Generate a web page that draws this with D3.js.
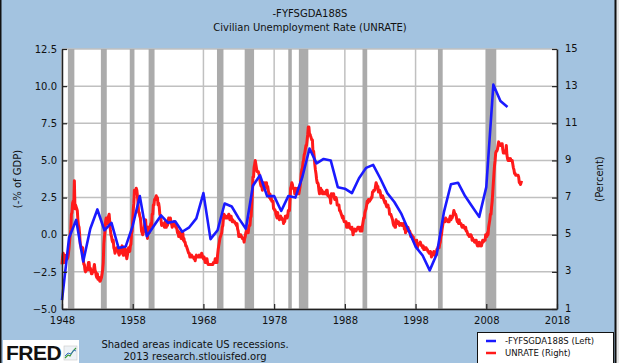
<!DOCTYPE html>
<html>
<head>
<meta charset="utf-8">
<script src="https://cdn.jsdelivr.net/npm/d3@7"></script>
<style>
  html, body { margin: 0; padding: 0; background: #fff; }
  svg { display: block; font-family: "DejaVu Sans", Verdana, sans-serif; }
</style>
</head>
<body>
<svg id="chart" width="619" height="363"></svg>
<script>
// -FYFSGDA188S, annual (fiscal year), negated federal surplus as % of GDP
const deficitYears = d3.range(1948, 2012);
const deficitValues = [
  -4.4, -0.2, 1.0, -1.8, 0.4, 1.7, 0.3, 0.8, -0.9, -0.8,
  0.6, 2.6, -0.1, 0.6, 1.3, 0.8, 0.9, 0.2, 0.5, 1.1,
  2.8, -0.3, 0.3, 2.1, 1.9, 1.1, 0.4, 3.3, 4.0, 2.6,
  2.6, 1.6, 2.6, 2.5, 3.9, 5.8, 4.8, 5.1, 5.0, 3.2,
  3.1, 2.8, 3.8, 4.5, 4.7, 3.8, 2.8, 2.2, 1.4, 0.3,
  -0.8, -1.4, -2.4, -1.3, 1.5, 3.4, 3.5, 2.6, 1.9, 1.2,
  3.2, 10.1, 9.0, 8.6
];

// UNRATE, monthly, one row per year starting 1948
const unrateStart = 1948;
const unrateRows = [
  [3.4, 3.8, 4.0, 3.9, 3.5, 3.6, 3.6, 3.9, 3.8, 3.7, 3.8, 4.0],
  [4.3, 4.7, 5.0, 5.3, 6.1, 6.2, 6.7, 6.8, 6.6, 7.9, 6.4, 6.6],
  [6.5, 6.4, 6.3, 5.8, 5.5, 5.4, 5.0, 4.5, 4.4, 4.2, 4.2, 4.3],
  [3.7, 3.4, 3.4, 3.1, 3.0, 3.2, 3.1, 3.1, 3.3, 3.5, 3.5, 3.1],
  [3.2, 3.1, 2.9, 2.9, 3.0, 3.0, 3.2, 3.4, 3.1, 3.0, 2.8, 2.7],
  [2.9, 2.6, 2.6, 2.7, 2.5, 2.5, 2.6, 2.7, 2.9, 3.1, 3.5, 4.5],
  [4.9, 5.2, 5.7, 5.9, 5.9, 5.6, 5.8, 6.0, 6.1, 5.7, 5.3, 5.0],
  [4.9, 4.7, 4.6, 4.7, 4.3, 4.2, 4.0, 4.2, 4.1, 4.3, 4.2, 4.2],
  [4.0, 3.9, 4.2, 4.0, 4.3, 4.3, 4.4, 4.1, 3.9, 3.9, 4.3, 4.2],
  [4.2, 3.9, 3.7, 3.9, 4.1, 4.3, 4.2, 4.1, 4.4, 4.5, 5.1, 5.2],
  [5.8, 6.4, 6.7, 7.4, 7.4, 7.3, 7.5, 7.4, 7.1, 6.7, 6.2, 6.2],
  [6.0, 5.9, 5.6, 5.2, 5.1, 5.0, 5.1, 5.2, 5.5, 5.7, 5.8, 5.3],
  [5.2, 4.8, 5.4, 5.2, 5.1, 5.4, 5.5, 5.6, 5.5, 6.1, 6.1, 6.6],
  [6.6, 6.9, 6.9, 7.0, 7.1, 6.9, 7.0, 6.6, 6.7, 6.5, 6.1, 6.0],
  [5.8, 5.5, 5.6, 5.6, 5.5, 5.5, 5.4, 5.7, 5.6, 5.4, 5.7, 5.5],
  [5.7, 5.9, 5.7, 5.7, 5.9, 5.6, 5.6, 5.4, 5.5, 5.5, 5.7, 5.5],
  [5.6, 5.4, 5.4, 5.3, 5.1, 5.2, 4.9, 5.0, 5.1, 5.1, 4.8, 5.0],
  [4.9, 5.1, 4.7, 4.8, 4.6, 4.6, 4.4, 4.4, 4.3, 4.2, 4.1, 4.0],
  [4.0, 3.8, 3.8, 3.8, 3.9, 3.8, 3.8, 3.8, 3.7, 3.7, 3.6, 3.8],
  [3.9, 3.8, 3.8, 3.8, 3.8, 3.9, 3.8, 3.8, 3.8, 4.0, 3.9, 3.8],
  [3.7, 3.8, 3.7, 3.5, 3.5, 3.7, 3.7, 3.5, 3.4, 3.4, 3.4, 3.4],
  [3.4, 3.4, 3.4, 3.4, 3.4, 3.5, 3.5, 3.5, 3.7, 3.7, 3.5, 3.5],
  [3.9, 4.2, 4.4, 4.6, 4.8, 4.9, 5.0, 5.1, 5.4, 5.5, 5.9, 6.1],
  [5.9, 5.9, 6.0, 5.9, 5.9, 5.9, 6.0, 6.1, 6.0, 5.8, 6.0, 6.0],
  [5.8, 5.7, 5.8, 5.7, 5.7, 5.7, 5.6, 5.6, 5.5, 5.6, 5.3, 5.2],
  [4.9, 5.0, 4.9, 5.0, 4.9, 4.9, 4.8, 4.8, 4.8, 4.6, 4.8, 4.9],
  [5.1, 5.2, 5.1, 5.1, 5.1, 5.4, 5.5, 5.5, 5.9, 6.0, 6.6, 7.2],
  [8.1, 8.1, 8.6, 8.8, 9.0, 8.8, 8.6, 8.4, 8.4, 8.4, 8.3, 8.2],
  [7.9, 7.7, 7.6, 7.7, 7.4, 7.6, 7.8, 7.8, 7.6, 7.7, 7.8, 7.8],
  [7.5, 7.6, 7.4, 7.2, 7.0, 7.2, 6.9, 7.0, 6.8, 6.8, 6.8, 6.4],
  [6.4, 6.3, 6.3, 6.1, 6.0, 5.9, 6.2, 5.9, 6.0, 5.8, 5.9, 6.0],
  [5.9, 5.9, 5.8, 5.8, 5.6, 5.7, 5.7, 6.0, 5.9, 6.0, 5.9, 6.0],
  [6.3, 6.3, 6.3, 6.9, 7.5, 7.6, 7.8, 7.7, 7.5, 7.5, 7.5, 7.2],
  [7.5, 7.4, 7.4, 7.2, 7.5, 7.5, 7.2, 7.4, 7.6, 7.9, 8.3, 8.5],
  [8.6, 8.9, 9.0, 9.3, 9.4, 9.6, 9.8, 9.8, 10.1, 10.4, 10.8, 10.8],
  [10.4, 10.4, 10.3, 10.2, 10.1, 10.1, 9.4, 9.5, 9.2, 8.8, 8.5, 8.3],
  [8.0, 7.8, 7.8, 7.7, 7.4, 7.2, 7.5, 7.5, 7.3, 7.4, 7.2, 7.3],
  [7.3, 7.2, 7.2, 7.3, 7.2, 7.4, 7.4, 7.1, 7.1, 7.1, 7.0, 7.0],
  [6.7, 7.2, 7.2, 7.1, 7.2, 7.2, 7.0, 6.9, 7.0, 7.0, 6.9, 6.6],
  [6.6, 6.6, 6.6, 6.3, 6.3, 6.2, 6.1, 6.0, 5.9, 6.0, 5.8, 5.7],
  [5.7, 5.7, 5.7, 5.4, 5.6, 5.4, 5.4, 5.6, 5.4, 5.4, 5.3, 5.3],
  [5.4, 5.2, 5.0, 5.2, 5.2, 5.3, 5.2, 5.2, 5.3, 5.3, 5.4, 5.4],
  [5.4, 5.3, 5.2, 5.4, 5.4, 5.2, 5.5, 5.7, 5.9, 5.9, 6.2, 6.3],
  [6.4, 6.6, 6.8, 6.7, 6.9, 6.9, 6.8, 6.9, 6.9, 7.0, 7.0, 7.3],
  [7.3, 7.4, 7.4, 7.4, 7.6, 7.8, 7.7, 7.6, 7.6, 7.3, 7.4, 7.4],
  [7.3, 7.1, 7.0, 7.1, 7.1, 7.0, 6.9, 6.8, 6.7, 6.8, 6.6, 6.5],
  [6.6, 6.6, 6.5, 6.4, 6.1, 6.1, 6.1, 6.0, 5.9, 5.8, 5.6, 5.5],
  [5.6, 5.4, 5.4, 5.8, 5.6, 5.6, 5.7, 5.7, 5.6, 5.5, 5.6, 5.6],
  [5.6, 5.5, 5.5, 5.6, 5.6, 5.3, 5.5, 5.1, 5.2, 5.2, 5.4, 5.4],
  [5.3, 5.2, 5.2, 5.1, 4.9, 5.0, 4.9, 4.8, 4.9, 4.7, 4.6, 4.7],
  [4.6, 4.6, 4.7, 4.3, 4.4, 4.5, 4.5, 4.5, 4.6, 4.5, 4.4, 4.4],
  [4.3, 4.4, 4.2, 4.3, 4.2, 4.3, 4.3, 4.2, 4.2, 4.1, 4.1, 4.0],
  [4.0, 4.1, 4.0, 3.8, 4.0, 4.0, 4.0, 4.1, 3.9, 3.9, 3.9, 3.9],
  [4.2, 4.2, 4.3, 4.4, 4.3, 4.5, 4.6, 4.9, 5.0, 5.3, 5.5, 5.7],
  [5.7, 5.7, 5.7, 5.9, 5.8, 5.8, 5.8, 5.7, 5.7, 5.7, 5.9, 6.0],
  [5.8, 5.9, 5.9, 6.0, 6.1, 6.3, 6.2, 6.1, 6.1, 6.0, 5.8, 5.7],
  [5.7, 5.6, 5.8, 5.6, 5.6, 5.6, 5.5, 5.4, 5.4, 5.5, 5.4, 5.4],
  [5.3, 5.4, 5.2, 5.2, 5.1, 5.0, 5.0, 4.9, 5.0, 5.0, 5.0, 4.9],
  [4.7, 4.8, 4.7, 4.7, 4.6, 4.6, 4.7, 4.7, 4.5, 4.4, 4.5, 4.4],
  [4.6, 4.5, 4.4, 4.5, 4.4, 4.6, 4.7, 4.6, 4.7, 4.7, 4.7, 5.0],
  [5.0, 4.9, 5.1, 5.0, 5.4, 5.6, 5.8, 6.1, 6.1, 6.5, 6.8, 7.3],
  [7.8, 8.3, 8.7, 9.0, 9.4, 9.5, 9.5, 9.6, 9.8, 10.0, 9.9, 9.9],
  [9.8, 9.8, 9.9, 9.9, 9.6, 9.4, 9.4, 9.5, 9.5, 9.4, 9.8, 9.3],
  [9.1, 9.0, 9.0, 9.1, 9.0, 9.1, 9.0, 9.0, 9.0, 8.8, 8.6, 8.5],
  [8.3, 8.3, 8.2, 8.2, 8.2, 8.2, 8.2, 8.1, 7.8, 7.8, 7.7, 7.8],
  [7.9]
];

// NBER recessions, [start, end] as "YYYY-MM"
const recessions = [
  ['1948-11', '1949-10'], ['1953-07', '1954-05'], ['1957-08', '1958-04'],
  ['1960-04', '1961-02'], ['1969-12', '1970-11'], ['1973-11', '1975-03'],
  ['1980-01', '1980-07'], ['1981-07', '1982-11'], ['1990-07', '1991-03'],
  ['2001-03', '2001-11'], ['2007-12', '2009-06']
];

const leftTicks = [-5, -2.5, 0, 2.5, 5, 7.5, 10, 12.5];
const rightTicks = [1, 3, 5, 7, 9, 11, 13, 15];
const yearTicks = [1948, 1958, 1968, 1978, 1988, 1998, 2008, 2018];

const titleLines = ['-FYFSGDA188S', 'Civilian Unemployment Rate (UNRATE)'];
const legendLabels = ['-FYFSGDA188S (Left)', 'UNRATE (Right)'];

// ---- build series ----
const parseMonth = d3.timeParse('%Y-%m');
const deficit = deficitYears.map((y, i) => ({ date: new Date(y, 0, 1), value: deficitValues[i] }));
const unrate = [];
unrateRows.forEach((row, i) => {
  row.forEach((v, m) => unrate.push({ date: new Date(unrateStart + i, m, 1), value: v }));
});

const svg = d3.select('#chart');
const W = 619, H = 363;
const plot = { left: 62, right: 557, top: 49, bottom: 309 };

const bg = '#a3c3e0';
svg.append('rect').attr('x', 0).attr('y', 0).attr('width', W).attr('height', H).attr('fill', '#e6e6e6');
svg.append('rect').attr('x', 0).attr('y', 0).attr('width', 616).attr('height', H).attr('fill', bg);
svg.append('line').attr('x1', 0.5).attr('x2', 0.5).attr('y1', 0).attr('y2', H).attr('stroke', '#111').attr('stroke-width', 2);
svg.append('line').attr('x1', 615.5).attr('x2', 615.5).attr('y1', 0).attr('y2', H).attr('stroke', '#111').attr('stroke-width', 2);

const x = d3.scaleTime()
  .domain([new Date(1948, 0, 1), new Date(2018, 0, 1)])
  .range([plot.left, plot.right]);
const yL = d3.scaleLinear().domain([-5, 12.5]).range([plot.bottom, plot.top]);
const yR = d3.scaleLinear().domain([1, 15]).range([plot.bottom, plot.top]);

// plot area
svg.append('rect')
  .attr('x', plot.left).attr('y', plot.top)
  .attr('width', plot.right - plot.left).attr('height', plot.bottom - plot.top)
  .attr('fill', '#fff');

// gridlines
const grid = svg.append('g').attr('stroke', '#c0c0c0').attr('stroke-width', 1.5);
grid.selectAll('.h').data(leftTicks).join('line')
  .attr('x1', plot.left).attr('x2', plot.right)
  .attr('y1', d => yL(d)).attr('y2', d => yL(d));
grid.selectAll('.v').data(yearTicks).join('line')
  .attr('x1', d => x(new Date(d, 0, 1))).attr('x2', d => x(new Date(d, 0, 1)))
  .attr('y1', plot.top).attr('y2', plot.bottom);

// recession bars
svg.append('g').selectAll('rect').data(recessions).join('rect')
  .attr('x', d => x(parseMonth(d[0])))
  .attr('width', d => x(parseMonth(d[1])) - x(parseMonth(d[0])))
  .attr('y', plot.top).attr('height', plot.bottom - plot.top)
  .attr('fill', '#ababab');

// lines
svg.append('path').datum(unrate)
  .attr('fill', 'none').attr('stroke', '#ff1a1a').attr('stroke-width', 3)
  .attr('stroke-linejoin', 'round')
  .attr('d', d3.line().x(d => x(d.date)).y(d => yR(d.value)));
svg.append('path').datum(deficit)
  .attr('fill', 'none').attr('stroke', '#1a1aff').attr('stroke-width', 2.6)
  .attr('stroke-linejoin', 'round')
  .attr('d', d3.line().x(d => x(d.date)).y(d => yL(d.value)));

// axes
function styleAxis(g) {
  g.select('.domain').attr('stroke', '#222').attr('stroke-width', 1.5);
  g.selectAll('.tick line').attr('stroke', '#222').attr('stroke-width', 1.2);
  g.selectAll('.tick text').attr('fill', '#111').style('font-size', '10px')
    .style('font-family', '"DejaVu Sans", Verdana, sans-serif');
}
svg.append('g').attr('transform', `translate(${plot.left},0)`)
  .call(d3.axisLeft(yL).tickValues(leftTicks).tickFormat(d3.format('.1f'))
    .tickSizeInner(-5).tickSizeOuter(0).tickPadding(5))
  .call(styleAxis);
svg.append('g').attr('transform', `translate(${plot.right},0)`)
  .call(d3.axisRight(yR).tickValues(rightTicks).tickFormat(d3.format('d'))
    .tickSizeInner(-5).tickSizeOuter(0).tickPadding(8))
  .call(styleAxis)
  .call(g => g.selectAll('.tick text').attr('dy', '0.2em'));
svg.append('g').attr('transform', `translate(0,${plot.bottom})`)
  .call(d3.axisBottom(x).tickValues(yearTicks.map(d => new Date(d, 0, 1)))
    .tickFormat(d3.timeFormat('%Y')).tickSizeInner(-5).tickSizeOuter(0).tickPadding(8))
  .call(styleAxis);

// titles
svg.append('g').selectAll('text').data(titleLines).join('text')
  .attr('x', 310).attr('y', (d, i) => 17 + i * 14)
  .attr('text-anchor', 'middle').attr('fill', '#111').style('font-size', '10px')
  .text(d => d);

svg.append('text')
  .attr('transform', `translate(21,${(plot.top + plot.bottom) / 2}) rotate(-90)`)
  .attr('text-anchor', 'middle').attr('fill', '#111').style('font-size', '10px')
  .text('(-% of GDP)');
svg.append('text')
  .attr('transform', `translate(603,${(plot.top + plot.bottom) / 2}) rotate(-90)`)
  .attr('text-anchor', 'middle').attr('fill', '#111').style('font-size', '10px')
  .text('(Percent)');

// footer
svg.append('text').attr('x', 195).attr('y', 348).attr('text-anchor', 'middle')
  .attr('fill', '#111').style('font-size', '10px').text('Shaded areas indicate US recessions.');
svg.append('text').attr('x', 195).attr('y', 360).attr('text-anchor', 'middle')
  .attr('fill', '#111').style('font-size', '10px').text('2013 research.stlouisfed.org');

// FRED logo
const logo = svg.append('g');
logo.append('rect').attr('x', 3).attr('y', 340).attr('width', 76).attr('height', 23).attr('fill', '#fff');
logo.append('text').attr('x', 6).attr('y', 360)
  .style('font-family', '"Liberation Sans", Arial, sans-serif').style('font-weight', 'bold')
  .style('font-size', '21px').attr('fill', '#111').attr('letter-spacing', '-0.5')
  .text('FRED');
logo.append('rect').attr('x', 64).attr('y', 346).attr('width', 13).attr('height', 14)
  .attr('fill', '#eef2f6').attr('stroke', '#c8c8c8').attr('stroke-width', 0.6);
logo.append('polyline').attr('points', '65,358 68,355 70,356 73,351 76,348')
  .attr('fill', 'none').attr('stroke', '#3a9a3a').attr('stroke-width', 1.2);
logo.append('polyline').attr('points', '65,356 68,353 71,354 74,350 76,351')
  .attr('fill', 'none').attr('stroke', '#3a6fc0').attr('stroke-width', 1);

// legend
const legend = svg.append('g');
legend.append('rect').attr('x', 477.5).attr('y', 332.5).attr('width', 136).attr('height', 40)
  .attr('fill', '#fff').attr('stroke', '#111').attr('stroke-width', 1);
const legendColors = ['#1a1aff', '#ff1a1a'];
legendLabels.forEach((label, i) => {
  const ly = 341 + i * 12;
  legend.append('line').attr('x1', 486).attr('x2', 496).attr('y1', ly).attr('y2', ly)
    .attr('stroke', legendColors[i]).attr('stroke-width', 2.5);
  legend.append('text').attr('x', 505).attr('y', ly + 3).attr('fill', '#111')
    .style('font-size', '8.5px').text(label);
});
</script>
</body>
</html>
